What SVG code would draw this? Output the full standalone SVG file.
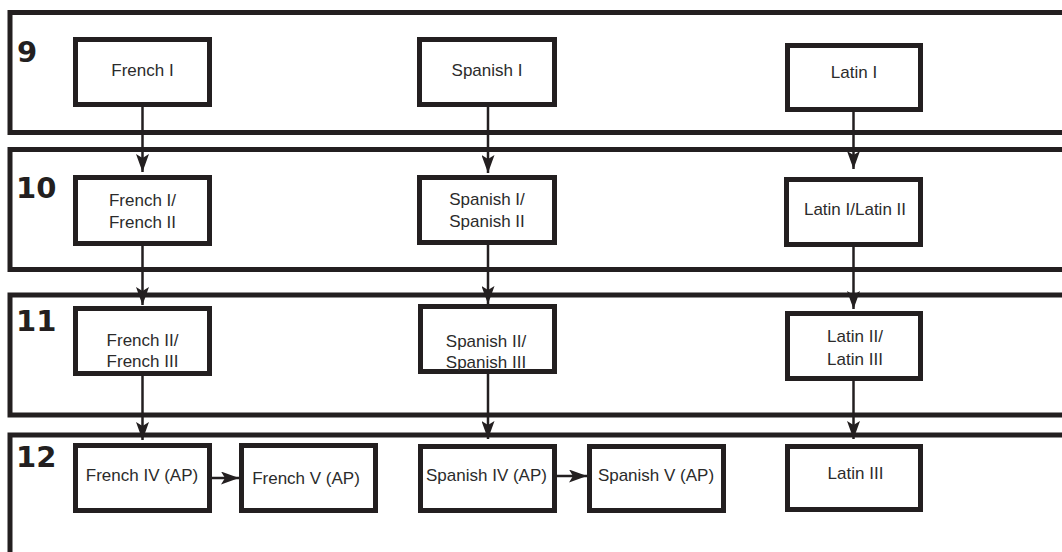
<svg xmlns="http://www.w3.org/2000/svg" width="1062" height="552" viewBox="0 0 1062 552">
<defs>
<style>
.band{fill:none;stroke:#231f20;stroke-width:5}
.box{fill:#fff;stroke:#231f20;stroke-width:5}
.t{font-family:"Liberation Sans",Arial,sans-serif;font-size:17px;fill:#2b2b2b;text-anchor:middle}
.g{font-family:"DejaVu Sans",sans-serif;font-weight:bold;font-size:29px;fill:#231f20}
.c{stroke:#231f20;stroke-width:2.5;fill:none;marker-end:url(#ah)}
</style>
<marker id="ah" markerUnits="userSpaceOnUse" viewBox="0 0 18 13" markerWidth="18" markerHeight="13" refX="18" refY="6.5" orient="auto">
<path d="M0,0 L18,6.5 L0,13 L4,6.5 Z" fill="#231f20"/>
</marker>
</defs>
<rect width="1062" height="552" fill="#fff"/>
<g id="bands">
<rect class="band" x="10" y="12.5" width="1070" height="120"/>
<rect class="band" x="10" y="149.5" width="1070" height="120"/>
<rect class="band" x="10" y="295" width="1070" height="120"/>
<rect class="band" x="10" y="435" width="1070" height="140"/>
<text class="g" x="17" y="62">9</text>
<text class="g" x="16" y="198">10</text>
<text class="g" x="16" y="331">11</text>
<text class="g" x="16" y="467">12</text>
</g>
<g id="connectors">
<line class="c" x1="142.5" y1="107" x2="142.5" y2="172"/>
<line class="c" x1="142.5" y1="246" x2="142.5" y2="305"/>
<line class="c" x1="142.5" y1="376" x2="142.5" y2="440"/>
<line class="c" x1="212" y1="478" x2="239" y2="478"/>
<line class="c" x1="488" y1="107" x2="488" y2="173"/>
<line class="c" x1="488" y1="245" x2="488" y2="304"/>
<line class="c" x1="488" y1="374" x2="488" y2="439"/>
<line class="c" x1="557" y1="476" x2="587" y2="476"/>
<line class="c" x1="853.5" y1="112" x2="853.5" y2="169"/>
<line class="c" x1="853.5" y1="247" x2="853.5" y2="309"/>
<line class="c" x1="853.5" y1="381" x2="853.5" y2="439"/>
</g>
<g id="french1"><rect class="box" x="75.5" y="39.5" width="134" height="65"/><text class="t" x="142.5" y="76">French I</text></g>
<g id="french12"><rect class="box" x="75.5" y="177.5" width="134" height="66"/><text class="t" x="142.5" y="206">French I/</text><text class="t" x="142.5" y="228">French II</text></g>
<g id="french23"><rect class="box" x="75.5" y="308.5" width="134" height="65"/><text class="t" x="142.5" y="346">French II/</text><text class="t" x="142.5" y="367">French III</text></g>
<g id="french4"><rect class="box" x="75.5" y="445.5" width="134" height="65"/><text class="t" x="142" y="481">French IV (AP)</text></g>
<g id="french5"><rect class="box" x="241.5" y="445.5" width="134" height="65"/><text class="t" x="306" y="484">French V (AP)</text></g>
<g id="spanish1"><rect class="box" x="419.5" y="39.5" width="135" height="65"/><text class="t" x="487" y="76">Spanish I</text></g>
<g id="spanish12"><rect class="box" x="419.5" y="177.5" width="135" height="65"/><text class="t" x="487" y="205">Spanish I/</text><text class="t" x="487" y="227">Spanish II</text></g>
<g id="spanish23"><rect class="box" x="420.5" y="306.5" width="134" height="65"/><text class="t" x="486" y="347">Spanish II/</text><text class="t" x="486" y="368">Spanish III</text></g>
<g id="spanish4"><rect class="box" x="420.5" y="446.5" width="134" height="64"/><text class="t" x="486.5" y="481">Spanish IV (AP)</text></g>
<g id="spanish5"><rect class="box" x="589.5" y="446.5" width="134" height="64"/><text class="t" x="656" y="481">Spanish V (AP)</text></g>
<g id="latin1"><rect class="box" x="787.5" y="45.5" width="133" height="64"/><text class="t" x="854" y="78">Latin I</text></g>
<g id="latin12"><rect class="box" x="786.5" y="179.5" width="134" height="65"/><text class="t" x="855" y="215">Latin I/Latin II</text></g>
<g id="latin23"><rect class="box" x="787.5" y="313.5" width="133" height="65"/><text class="t" x="855" y="342">Latin II/</text><text class="t" x="855" y="365">Latin III</text></g>
<g id="latin3"><rect class="box" x="787.5" y="446.5" width="133" height="63"/><text class="t" x="855.5" y="479">Latin III</text></g>
</svg>
